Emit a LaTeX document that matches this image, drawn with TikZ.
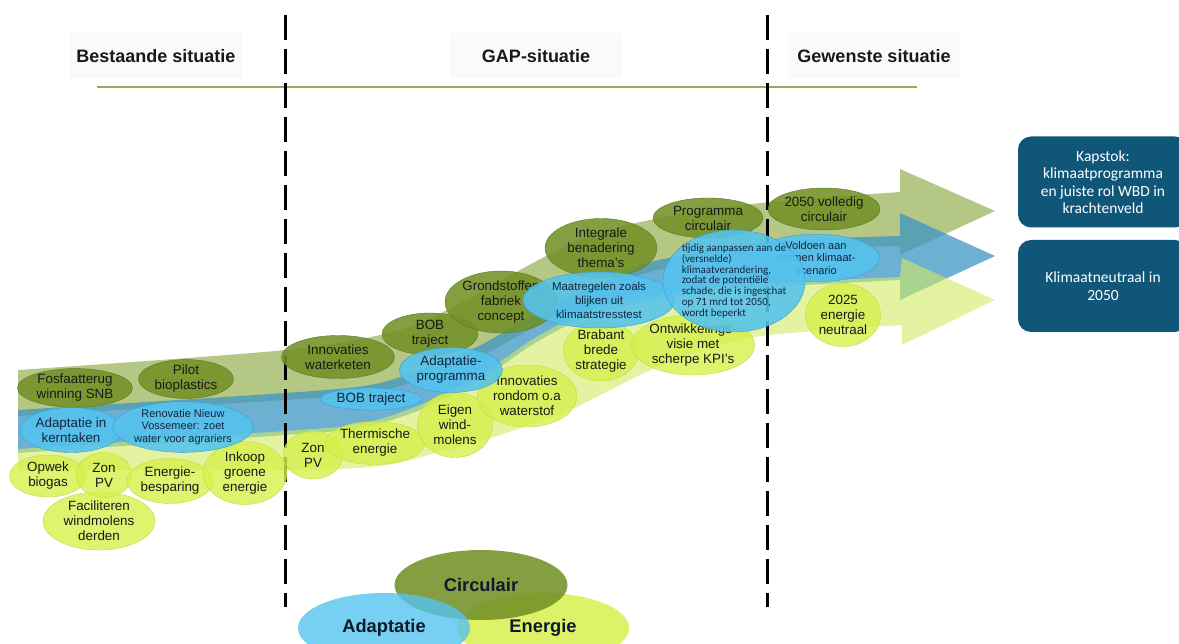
\documentclass[tikz,border=0pt]{standalone}
\usepackage{fontspec}
\setmainfont{Liberation Sans}
\newfontfamily\calibri{Carlito}
\usetikzlibrary{shapes.geometric}

\definecolor{bandolv}{RGB}{150,175,80}
\definecolor{bandblu}{RGB}{60,150,195}
\definecolor{bandyel}{RGB}{210,235,100}
\definecolor{olvfill}{RGB}{115,145,40}
\definecolor{olvline}{RGB}{95,120,35}
\definecolor{blufill}{RGB}{85,195,238}
\definecolor{bluline}{RGB}{50,160,215}
\definecolor{yelfill}{RGB}{215,240,75}
\definecolor{yelline}{RGB}{190,220,70}
\definecolor{boxblue}{RGB}{16,86,121}
\definecolor{txtdark}{RGB}{25,25,25}
\definecolor{txtblue}{RGB}{20,36,62}
\definecolor{hline}{RGB}{150,170,90}

\newcommand\elfont{\fontsize{13.4}{15}\selectfont}
\newcommand\smfont{\fontsize{11}{12.8}\selectfont}
\newcommand\hdfont{\bfseries\fontsize{18}{20}\selectfont}
\newcommand\tijdfont{\calibri\fontsize{11}{10.8}\selectfont\lineskiplimit=-10pt}

\begin{document}
\begin{tikzpicture}[x=1pt,y=-1pt,
  el/.style={ellipse,inner sep=0pt,align=center,font=\elfont,fill opacity=0.88,text opacity=1},
  olv/.style={el,fill=olvfill,draw=olvline,text=txtdark},
  blu/.style={el,fill=blufill,draw=bluline,text=txtblue},
  yel/.style={el,fill=yelfill,draw=yelline,text=txtdark,fill opacity=0.8},
  hdr/.style={fill=black!2,font=\hdfont,text=black!90,minimum width=172pt,minimum height=45pt},
  kapbox/.style={rounded corners=13pt,fill=boxblue,text=white,align=center,
    font=\calibri\fontsize{15.5}{17.5}\selectfont,minimum width=170pt},
  venn/.style={ellipse,inner sep=0pt,minimum width=172pt,minimum height=70pt,
    font=\bfseries\fontsize{18.3}{20}\selectfont,text=txtblue!70!black,text opacity=1},
  sep/.style={line width=3pt,dash pattern=on 25pt off 9pt}]
   \useasboundingbox (0,0) rectangle (1179,644);

   % 見出し
   \node[hdr] (hbestaand) at (156,56) {Bestaande situatie};
   \node[hdr] (hgap) at (536,56) {GAP-situatie};
   \node[hdr] (hgewenst) at (874,56) {Gewenste situatie};
   \draw[hline,line width=1.6pt] (97,87) -- (917,87);

   % 帯
   \fill[bandolv,opacity=0.7] plot[smooth,tension=0.5] coordinates {(18,370) (285,350) (400,330)
      (470,298) (520,270) (560,249) (600,232) (680,214) (770,202) (900,192)}
      -- (900,169) -- (995,211) -- (900,255) -- (900,246)
      -- plot[smooth,tension=0.5] coordinates {(900,246) (770,252) (650,272) (600,296) (537,326)
      (477,358) (420,380) (370,393) (285,400) (18,416)} -- cycle;
   \fill[bandblu,opacity=0.75] plot[smooth,tension=0.5] coordinates {(18,410) (285,393) (370,385)
      (420,370) (477,347) (537,313) (600,284) (650,262) (770,242) (900,236)}
      -- (900,213) -- (995,256) -- (900,300) -- (900,280)
      -- plot[smooth,tension=0.5] coordinates {(900,280) (770,287) (700,293) (600,312) (540,340)
      (480,380) (420,410) (360,428) (285,435) (18,453)} -- cycle;
   \fill[bandyel,opacity=0.6] plot[smooth,tension=0.5] coordinates {(18,449) (285,431) (360,424)
      (420,405) (480,375) (540,335) (600,307) (700,289) (770,283) (900,277)}
      -- (902,258) -- (995,300) -- (902,345) -- (902,325)
      -- plot[smooth,tension=0.5] coordinates {(902,325) (770,335) (700,350) (640,375) (570,410)
      (500,435) (440,452) (380,466) (285,470) (18,470)} -- cycle;

   % 区切り線
   \draw[sep] (285,15) -- (285,607);
   \draw[sep] (767,15) -- (767,607);

   % Energie
   \node[yel,minimum width=112pt,minimum height=58pt] (windderden) at (99,521) {Faciliteren\\windmolens\\derden};
   \node[yel,minimum width=77pt,minimum height=42pt] (opwek) at (48,476) {Opwek\\biogas};
   \node[yel,minimum width=56pt,minimum height=45pt] (zonpvA) at (104,475) {Zon\\PV};
   \node[yel,minimum width=86pt,minimum height=45pt] (besparing) at (170,481) {Energie-\\besparing};
   \node[yel,minimum width=84pt,minimum height=63pt] (inkoop) at (245,473) {Inkoop\\groene\\energie};
   \node[yel,minimum width=60pt,minimum height=48pt] (zonpvB) at (313,455) {Zon\\PV};
   \node[yel,minimum width=100pt,minimum height=43pt] (thermisch) at (375,443) {Thermische\\energie};
   \node[yel,minimum width=75pt,minimum height=65pt] (eigenwind) at (455,425) {Eigen\\wind-\\molens};
   \node[yel,minimum width=100pt,minimum height=62pt] (waterstof) at (527,396) {Innovaties\\rondom o.a\\waterstof};
   \node[yel,minimum width=75pt,minimum height=52pt] (brabant) at (601,351) {Brabant\\brede\\strategie};
   \node[yel,minimum width=123pt,minimum height=55pt] (kpi) at (693,345) {Ontwikkelings-\\visie met\\scherpe KPI's};
   \node[yel,minimum width=75pt,minimum height=63pt] (neutraal2025) at (843,315) {2025\\energie\\neutraal};

   % Circulair
   \node[olv,minimum width=115pt,minimum height=38pt] (fosfaat) at (75,388) {Fosfaatterug\\winning SNB};
   \node[olv,minimum width=95pt,minimum height=36pt] (pilot) at (186,379) {Pilot\\bioplastics};
   \node[olv,minimum width=113pt,minimum height=43pt] (waterketen) at (338,357) {Innovaties\\waterketen};
   \node[olv,minimum width=96pt,minimum height=42pt] (bobolv) at (430,334) {BOB\\traject};
   \node[olv,minimum width=112pt,minimum height=62pt] (grondstof) at (501,302) {Grondstoffen\\fabriek\\concept};
   \node[olv,minimum width=112pt,minimum height=59pt] (integraal) at (601,248) {Integrale\\benadering\\thema's};
   \node[olv,minimum width=110pt,minimum height=40pt] (progcirc) at (708,218) {Programma\\circulair};
   \node[olv,minimum width=112pt,minimum height=42pt] (volledig) at (824,209) {2050 volledig\\circulair};

   % Adaptatie
   \node[blu,minimum width=102pt,minimum height=45pt] (adaptkern) at (71,430) {Adaptatie in\\kerntaken};
   \node[blu,minimum width=140pt,minimum height=50pt,font=\smfont] (renovatie) at (183,427) {Renovatie Nieuw\\Vossemeer: zoet\\water voor agrariers};
   \node[blu,minimum width=102pt,minimum height=22pt] (bobblu) at (371,399) {BOB traject};
   \node[blu,minimum width=103pt,minimum height=45pt] (adaptprog) at (451,370) {Adaptatie-\\programma};
   \node[blu,minimum width=152pt,minimum height=56pt,font=\fontsize{11.5}{14}\selectfont] (maatregel) at (599,300) {Maatregelen zoals\\blijken uit\\klimaatstresstest};
   \node[blu,minimum width=127pt,minimum height=45pt,font=\smfont] (voldoen) at (816,258) {Voldoen aan\\normen klimaat-\\scenario};
   \node[blu,minimum width=132pt,minimum height=102pt,inner sep=-2pt,align=left,font=\tijdfont] (tijdig) at (734,281)
      {tijdig aanpassen aan de\\(versnelde)\\klimaatverandering,\\zodat de potenti\"ele\\schade, die is ingeschat\\op 71 mrd tot 2050,\\wordt beperkt};

   % 目標
   \node[kapbox,minimum height=91pt] (kapstok) at (1103,182) {Kapstok:\\klimaatprogramma\\en juiste rol WBD in\\krachtenveld};
   \node[kapbox,minimum height=92pt] (neutraal2050) at (1103,286) {Klimaatneutraal in\\2050};

   % 凡例
   \node[venn,fill=yelfill,fill opacity=0.85] (venergie) at (543,628) {Energie};
   \node[venn,fill=olvfill,fill opacity=0.88,minimum width=173pt] (vcirc) at (481,585) {Circulair};
   \node[venn,fill=blufill,fill opacity=0.8] (vadapt) at (384,628) {Adaptatie};

\end{tikzpicture}
\end{document}
